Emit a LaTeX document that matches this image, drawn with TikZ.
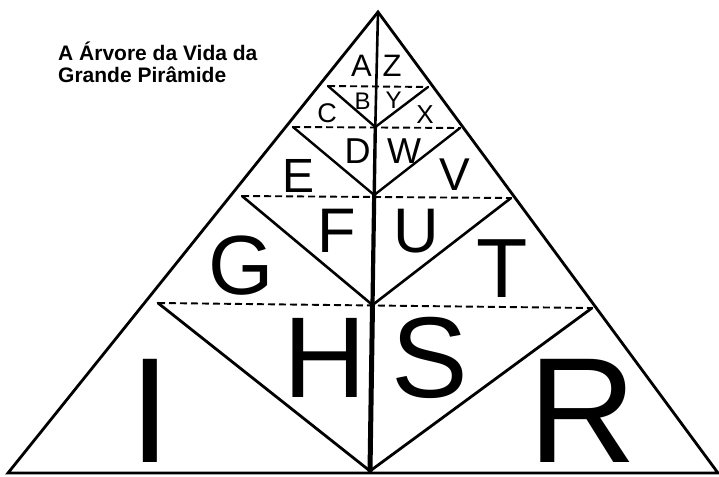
\documentclass[tikz,border=0pt]{standalone}
\usepackage{fontspec}
\setmainfont{Liberation Sans}
\begin{document}
\begin{tikzpicture}[
    x=1pt, y=-1pt,
    edge/.style={line width=2.8pt, line join=miter},
    trunk/.style={line width=#1, line cap=round},
    branch/.style={line width=2.4pt, line cap=round},
    level/.style={line width=1.9pt, dash pattern=on 7pt off 4pt},
    letter/.style={inner sep=0pt, anchor=base, text depth=0pt, font=\fontsize{#1}{#1}\selectfont},
    title/.style={inner sep=0pt, anchor=base west, font=\fontsize{21}{22}\selectfont\bfseries}
]
    \useasboundingbox (0,0) rectangle (719,476);

    % Pyramid
    \coordinate (apex) at (378,12);
    \coordinate (baseL) at (8,473);
    \coordinate (baseR) at (718,473);
    \draw[edge] (baseL) -- (apex) -- (baseR) -- cycle;

    % Trunk
    \coordinate (knotA) at (375.3,127);
    \coordinate (knotB) at (374.2,195);
    \coordinate (knotC) at (372.5,305);
    \coordinate (root) at (370,471);
    \draw[trunk=2.6pt] (apex) -- (knotA);
    \draw[trunk=3.4pt] (knotA) -- (knotB);
    \draw[trunk=4.2pt] (knotB) -- (knotC);
    \draw[trunk=5pt] (knotC) -- (root);

    % Branch tips
    \coordinate (tipAl) at (328,86);
    \coordinate (tipAr) at (428,87);
    \coordinate (tipBl) at (293,127);
    \coordinate (tipBr) at (460,128);
    \coordinate (tipCl) at (242,196);
    \coordinate (tipCr) at (511,198);
    \coordinate (tipDl) at (158,303);
    \coordinate (tipDr) at (592,308);

    % Branches
    \draw[branch] (tipAl) -- (knotA) -- (tipAr);
    \draw[branch] (tipBl) -- (knotB) -- (tipBr);
    \draw[branch, line width=2.6pt] (tipCl) -- (knotC) -- (tipCr);
    \draw[branch, line width=2.8pt] (tipDl) -- (root) -- (tipDr);

    % Levels
    \draw[level] (tipAl) -- (tipAr);
    \draw[level] (tipBl) -- (tipBr);
    \draw[level] (tipCl) -- (tipCr);
    \draw[level] (tipDl) -- (tipDr);

    % Letters
    \node[letter=31] (cellA) at (361.5,77) {A};
    \node[letter=31] (cellZ) at (392,77) {Z};
    \node[letter=24] (cellB) at (362.5,110) {B};
    \node[letter=24] (cellY) at (393.5,108) {Y};
    \node[letter=27] (cellC) at (327,122) {C};
    \node[letter=26] (cellX) at (425,123) {X};
    \node[letter=36] (cellD) at (357.5,163) {D};
    \node[letter=36] (cellW) at (404,163) {W};
    \node[letter=48] (cellE) at (298.5,192) {E};
    \node[letter=46] (cellV) at (454.5,190) {V};
    \node[letter=63] (cellF) at (337,252) {F};
    \node[letter=63] (cellU) at (416.5,252) {U};
    \node[letter=84] (cellG) at (241.5,294) {G};
    \node[letter=84] (cellT) at (502.5,297) {T};
    \node[letter=115] (cellH) at (325,397) {H};
    \node[letter=115] (cellS) at (430,397) {S};
    \node[letter=150] (cellI) at (150,462) {I};
    \node[letter=150] (cellR) at (582.5,462) {R};

    % Title
    \node[title] (title1) at (58,61) {A Árvore da Vida da};
    \node[title] (title2) at (58,83) {Grande Pirâmide};
\end{tikzpicture}
\end{document}
